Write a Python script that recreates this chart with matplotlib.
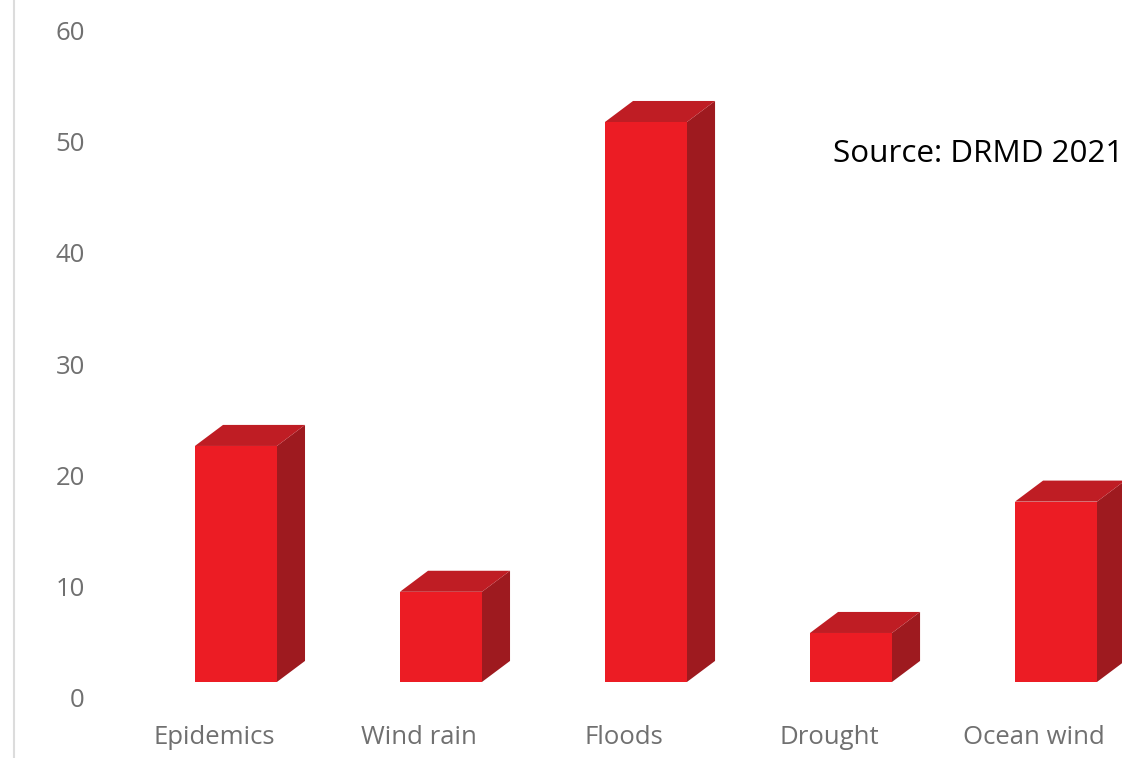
import matplotlib.pyplot as plt
from matplotlib.lines import Line2D

categories = ["Epidemics", "Wind rain", "Floods", "Drought", "Ocean wind"]
values = [21.2, 8.1, 50.3, 4.4, 16.2]
base = 1.44  # bars sit a little above the 0 line (3D floor)
yticks = [0, 10, 20, 30, 40, 50, 60]

front_col = "#ec1c24"
side_col = "#9e1a1f"
top_col = "#bf1d24"

# 3D look: bar front offset, width and depth (category / value units)
off = -0.093
w = 0.40
dx = 0.137
dy = 1.89

fig = plt.figure(figsize=(11.22, 7.58), dpi=100)
ax = fig.add_axes([100 / 1122, 48 / 758, 1022 / 1122, 710 / 758])

x = list(range(len(categories)))
ax.bar([i + off for i in x], values, width=w, bottom=base, align="edge",
       color=front_col, linewidth=0, zorder=3)
for i, v in zip(x, values):
    x0 = i + off
    x1 = x0 + w
    top = base + v
    # side face
    ax.fill([x1, x1 + dx, x1 + dx, x1], [base, base + dy, top + dy, top],
            color=side_col, linewidth=0, zorder=2)
    # top face
    ax.fill([x0, x1, x1 + dx, x0 + dx], [top, top, top + dy, top + dy],
            color=top_col, linewidth=0, zorder=2)

ax.set_xlim(-0.556, 4.429)
ax.set_ylim(-1.078, 62.70)
ax.set_yticks(yticks)
ax.set_xticks(x)
ax.set_xticklabels(categories)
for s in ax.spines.values():
    s.set_visible(False)
ax.tick_params(axis="both", length=0, colors="#707070", labelsize=18.5)
ax.tick_params(axis="y", pad=11)
ax.tick_params(axis="x", pad=11)
for t in ax.get_xticklabels() + ax.get_yticklabels():
    t.set_fontfamily("Open Sans")

ax.text(3.02, 48.9, "Source: DRMD 2021", fontsize=22.6, family="Open Sans",
        color="black", va="center", ha="left")

fig.add_artist(Line2D([14 / 1122, 14 / 1122], [0, 1], color="#dcdcdc",
                      linewidth=1.5, transform=fig.transFigure))

fig.savefig("out.png", dpi=100)
